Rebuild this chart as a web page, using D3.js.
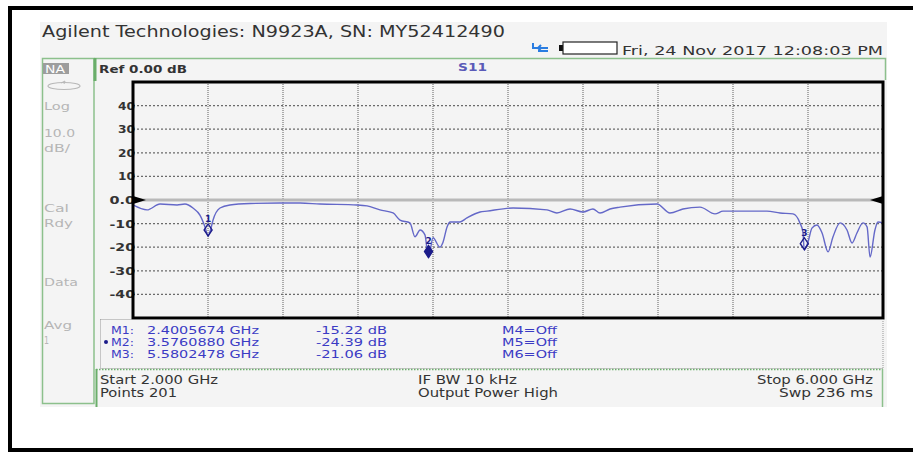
<!DOCTYPE html>
<html>
<head>
<meta charset="utf-8">
<script src="https://cdn.jsdelivr.net/npm/d3@7"></script>
<style>
  html, body { margin: 0; padding: 0; background: #fff; overflow: hidden; }
  svg { display: block; font-family: "DejaVu Sans", Verdana, sans-serif; }
</style>
</head>
<body>
<svg width="913" height="453"></svg>
<script>
// S11 trace (GHz, dB)
var freqGHz = [2.000, 2.075, 2.144, 2.235, 2.277, 2.320, 2.357, 2.384, 2.400, 2.416,
  2.427, 2.464, 2.517, 2.624, 2.784, 2.891, 2.997, 3.195, 3.248, 3.317,
  3.387, 3.424, 3.477, 3.504, 3.531, 3.557, 3.576, 3.600, 3.637, 3.653,
  3.675, 3.691, 3.744, 3.781, 3.851, 3.888, 4.027, 4.208, 4.261, 4.331,
  4.400, 4.453, 4.491, 4.544, 4.597, 4.795, 4.864, 4.933, 5.024, 5.104,
  5.147, 5.381, 5.451, 5.520, 5.557, 5.573, 5.580, 5.600, 5.621, 5.648,
  5.675, 5.707, 5.733, 5.771, 5.808, 5.835, 5.861, 5.893, 5.915, 5.931,
  5.957, 5.973, 6.000];
var s11dB = [-2.1, -4.2, -1.7, -2.1, -1.7, -3.4, -6.4, -11.4, -15.2, -11.9,
  -8.5, -3.4, -2.1, -1.5, -1.3, -1.3, -1.7, -2.1, -2.5, -4.2,
  -5.5, -8.5, -9.7, -15.6, -12.7, -14.8, -24.4, -16.0, -20.0, -18.0,
  -11.4, -9.3, -9.3, -7.6, -5.1, -4.7, -3.4, -4.2, -5.5, -3.8,
  -5.1, -3.8, -5.5, -3.8, -3.0, -1.7, -5.5, -3.8, -3.0, -5.9,
  -4.7, -4.7, -5.5, -5.9, -9.7, -13.6, -21.1, -17.8, -11.9, -10.6,
  -14.0, -22.0, -15.7, -9.7, -12.7, -18.2, -14.0, -9.7, -11.4, -24.2,
  -12.7, -9.3, -9.7];

var yTicks = [40, 30, 20, 10, 0, -10, -20, -30, -40];
var yTickLabels = ["40", "30", "20", "10", "0.0", "-10", "-20", "-30", "-40"];
var xDivisions = [2.4, 2.8, 3.2, 3.6, 4.0, 4.4, 4.8, 5.2, 5.6];

var markerIds = ["1", "2", "3"];
var markerFreq = [2.4005674, 3.5760880, 5.5802478];
var markerDB = [-15.22, -24.39, -21.06];
var markerFreqLabels = ["2.4005674 GHz", "3.5760880 GHz", "5.5802478 GHz"];
var markerDBLabels = ["-15.22 dB", "-24.39 dB", "-21.06 dB"];
var offMarkers = ["M4=Off", "M5=Off", "M6=Off"];
var activeMarker = 1;

var sideLabels = ["Log", "10.0", "dB/", "Cal", "Rdy", "Data", "Avg", "1"];
var sideLabelY = [110, 137, 152, 212, 227, 286, 329, 344];
var sideLabelW = [26, 31, 26, 25, 29, 34, 28, 5];

var svg = d3.select("svg");

// text with its width forced, the screenshot is stretched sideways
function txt(parent, x, y, s, size, w, fill, anchor) {
  var t = parent.append("text")
    .attr("x", x).attr("y", y)
    .attr("font-size", size)
    .attr("fill", fill || "#333")
    .attr("text-anchor", anchor || "start")
    .text(s);
  if (w) t.attr("textLength", w).attr("lengthAdjust", "spacingAndGlyphs");
  return t;
}

// white page, outer black frame (open on the right) and grey instrument panel
svg.append("rect").attr("width", 913).attr("height", 453).attr("fill", "#fff");
svg.append("path").attr("d", "M920,8 H10 V450 H920")
  .attr("fill", "none").attr("stroke", "#000").attr("stroke-width", 4);
svg.append("rect").attr("x", 40).attr("y", 22).attr("width", 847).attr("height", 385)
  .attr("fill", "#f4f4f4");

txt(svg, 42, 37, "Agilent Technologies: N9923A, SN: MY52412490", 15, 463, "#333");
txt(svg, 622, 55, "Fri, 24 Nov 2017 12:08:03 PM", 12, 261, "#333");

// little blue arrow icon and battery
svg.append("path").attr("d", "M533,43 v5 h5 M538,48 h10 M541,45 l-3,3 l3,3 M538,51 h10")
  .attr("fill", "none").attr("stroke", "#2a7de1").attr("stroke-width", 2);
svg.append("rect").attr("x", 559).attr("y", 45).attr("width", 4).attr("height", 6).attr("fill", "#111");
svg.append("rect").attr("x", 563).attr("y", 42).attr("width", 54).attr("height", 12)
  .attr("fill", "#fff").attr("stroke", "#222").attr("stroke-width", 1.2);

// left status column
svg.append("rect").attr("x", 42.5).attr("y", 58.5).attr("width", 51.5).attr("height", 345)
  .attr("fill", "none").attr("stroke", "#8cc08c").attr("stroke-width", 1.5);
svg.append("rect").attr("x", 43).attr("y", 63).attr("width", 26).attr("height", 11).attr("fill", "#9d9d9d");
txt(svg, 45, 72.5, "NA", 10, 20, "#fff");
svg.append("ellipse").attr("cx", 64).attr("cy", 86).attr("rx", 16).attr("ry", 3.5)
  .attr("fill", "none").attr("stroke", "#b8b8b8").attr("stroke-width", 1.2);
svg.append("path").attr("d", "M61,83 l4,-2 l-1,3").attr("fill", "none").attr("stroke", "#b8b8b8");
sideLabels.forEach(function(s, i) {
  txt(svg, 44, sideLabelY[i], s, 11, sideLabelW[i], "#b6b6b6");
});

// header strip with reference level and measurement
svg.append("path").attr("d", "M95,80 V58.5 H885.5 V80")
  .attr("fill", "none").attr("stroke", "#8cc08c").attr("stroke-width", 1.5);
svg.append("line").attr("x1", 95).attr("x2", 95).attr("y1", 58).attr("y2", 81)
  .attr("stroke", "#6aae6a").attr("stroke-width", 3);
txt(svg, 99, 73, "Ref 0.00 dB", 11, 88, "#333").attr("font-weight", "bold");
txt(svg, 458, 71, "S11", 10, 29, "#5a5ab8").attr("font-weight", "bold");

// plot area
var margin = {left: 133, right: 883, top: 82, bottom: 318};
var x = d3.scaleLinear().domain([2, 6]).range([margin.left, margin.right]);
var y = d3.scaleLinear().domain([-50, 50]).range([margin.bottom, margin.top]);

var g = svg.append("g");

g.selectAll(".hgrid")
  .data(yTicks.filter(function(d) { return d !== 0; }))
  .enter().append("line")
    .attr("class", "hgrid")
    .attr("x1", margin.left).attr("x2", margin.right)
    .attr("y1", function(d) { return y(d); }).attr("y2", function(d) { return y(d); })
    .attr("stroke", "#6a6a6a").attr("stroke-width", 1.2).attr("stroke-dasharray", "2,2");

g.selectAll(".vgrid")
  .data(xDivisions)
  .enter().append("line")
    .attr("class", "vgrid")
    .attr("x1", function(d) { return x(d); }).attr("x2", function(d) { return x(d); })
    .attr("y1", margin.top).attr("y2", margin.bottom)
    .attr("stroke", "#777").attr("stroke-width", 1.2).attr("stroke-dasharray", "1,1");

// reference (0 dB) line
g.append("line")
  .attr("x1", margin.left).attr("x2", margin.right)
  .attr("y1", y(0)).attr("y2", y(0))
  .attr("stroke", "#b9b9b9").attr("stroke-width", 3);

// y tick labels
yTicks.forEach(function(d, i) {
  var s = yTickLabels[i];
  txt(g, 135, y(d) + 4, s, 11, s.length * 8.5, "#333", "end").attr("font-weight", "bold");
});

// trace
var line = d3.line()
  .x(function(d, i) { return x(freqGHz[i]); })
  .y(function(d) { return y(d); })
  .curve(d3.curveMonotoneX);

g.append("path")
  .datum(s11dB)
  .attr("d", line)
  .attr("fill", "none")
  .attr("stroke", "#6468c8")
  .attr("stroke-width", 1.4)
  .attr("stroke-linejoin", "round");

// markers: number above a diamond sitting on the trace
markerIds.forEach(function(id, i) {
  var mx = x(markerFreq[i]), my = y(markerDB[i]);
  var active = i === activeMarker;
  g.append("path")
    .attr("d", "M" + mx + "," + my + " l-4,-6 l4,-6 l4,6 z")
    .attr("fill", active ? "#1c1c8a" : "none")
    .attr("stroke", "#1c1c8a").attr("stroke-width", 1.4);
  txt(g, mx, my - 14, id, 9, null, "#1c1c8a", "middle").attr("font-weight", "bold");
});

// frame and reference arrows
g.append("rect")
  .attr("x", margin.left).attr("y", margin.top)
  .attr("width", margin.right - margin.left).attr("height", margin.bottom - margin.top)
  .attr("fill", "none").attr("stroke", "#000").attr("stroke-width", 3);
g.append("path")
  .attr("d", "M" + margin.left + "," + (y(0) - 4) + " l13,4 l-13,4 z").attr("fill", "#000");
g.append("path")
  .attr("d", "M" + margin.right + "," + (y(0) - 4) + " l-13,4 l13,4 z").attr("fill", "#000");

// marker readout table
svg.append("rect").attr("x", 100.5).attr("y", 319.5).attr("width", 782.5).attr("height", 49)
  .attr("fill", "none").attr("stroke", "#999").attr("stroke-width", 1).attr("stroke-dasharray", "1,1");
var rowY = [334, 346, 358];
markerIds.forEach(function(id, i) {
  txt(svg, 111, rowY[i], "M" + id + ":", 11, 23, "#3b3bc4");
  txt(svg, 147, rowY[i], markerFreqLabels[i], 11, 112, "#3b3bc4");
  txt(svg, 316, rowY[i], markerDBLabels[i], 11, 71, "#3b3bc4");
  txt(svg, 502, rowY[i], offMarkers[i], 11, 55, "#3b3bc4");
});
svg.append("circle").attr("cx", 106).attr("cy", rowY[activeMarker] - 4).attr("r", 2).attr("fill", "#1c1c8a");

// sweep settings box
svg.append("line").attr("x1", 96).attr("x2", 883).attr("y1", 369.5).attr("y2", 369.5)
  .attr("stroke", "#6aae6a").attr("stroke-width", 1.5).attr("stroke-dasharray", "1.5,1.5");
svg.append("line").attr("x1", 96.5).attr("x2", 96.5).attr("y1", 369).attr("y2", 407)
  .attr("stroke", "#6aae6a").attr("stroke-width", 2);
svg.append("line").attr("x1", 882.5).attr("x2", 882.5).attr("y1", 369).attr("y2", 407)
  .attr("stroke", "#8cc08c").attr("stroke-width", 1.5);
txt(svg, 100, 384, "Start 2.000 GHz", 12, 118, "#333");
txt(svg, 100, 397, "Points 201", 12, 77, "#333");
txt(svg, 418, 384, "IF BW 10 kHz", 12, 99, "#333");
txt(svg, 418, 397, "Output Power High", 12, 140, "#333");
txt(svg, 873, 384, "Stop 6.000 GHz", 12, 116, "#333", "end");
txt(svg, 873, 397, "Swp 236 ms", 12, 94, "#333", "end");
</script>
</body>
</html>
